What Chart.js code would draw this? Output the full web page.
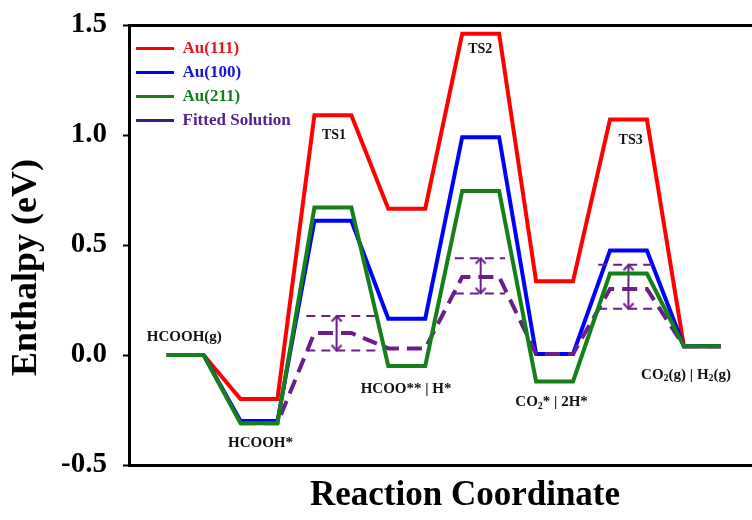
<!DOCTYPE html>
<html>
<head>
<meta charset="utf-8">
<script src="https://cdn.jsdelivr.net/npm/chart.js@4/dist/chart.umd.min.js"></script>
<style>
  html, body { margin: 0; padding: 0; overflow: hidden; background: #fff; }
  canvas { display: block; }
</style>
</head>
<body>
<canvas id="mycanvas" width="808" height="520"></canvas>
<script>
  //states along the reaction path
  var states = ['HCOOH(g)', 'HCOOH*', 'TS1', 'HCOO** | H*', 'TS2', 'CO2* | 2H*', 'TS3', 'CO2(g) | H2(g)'];
  //enthalpy of each state (eV)
  var au111 = [0, -0.20, 1.09, 0.665, 1.46, 0.335, 1.07, 0.04];
  var au100 = [0, -0.30, 0.61, 0.165, 0.99, 0.005, 0.475, 0.04];
  var au211 = [0, -0.31, 0.67, -0.05, 0.745, -0.12, 0.37, 0.04];
  var fitted = [null, -0.31, 0.10, 0.03, 0.355, 0.005, 0.30, 0.04];
  //spread of the fitted solution at the transition states
  var fitUpper = [0.177, 0.44, 0.41];
  var fitLower = [0.02, 0.28, 0.21];
  var bandFrom = [3.78, 7.8, 11.68];
  var bandTo = [5.71, 9.16, 13.29];
  var arrowX = [4.6, 8.5, 12.5];
  var yTicks = [-0.5, 0, 0.5, 1.0, 1.5];

  var serif = "'Liberation Serif', 'Times New Roman', serif";
  var purple = '#6a1e8c';

  //state labels, anchored in data units
  var stateLabels = [
    { parts: ['HCOOH(g)'], x: 0.48, y: 0.082, size: 15 },
    { parts: ['HCOOH*'], x: 2.54, y: -0.40, size: 15 },
    { parts: ['TS1'], x: 4.53, y: 1.0, size: 14 },
    { parts: ['HCOO** | H*'], x: 6.48, y: -0.155, size: 15 },
    { parts: ['TS2'], x: 8.49, y: 1.39, size: 14 },
    { parts: ['CO', { sub: '2' }, '* | 2H*'], x: 10.42, y: -0.214, size: 15 },
    { parts: ['TS3'], x: 12.56, y: 0.977, size: 14 },
    { parts: ['CO', { sub: '2' }, '(g) | H', { sub: '2' }, '(g)'], x: 14.06, y: -0.09, size: 15 }
  ];

  //each state is a flat step of one unit, joined by slopes
  function profile(values) {
    var pts = [];
    for (var i = 0; i < values.length; i++) {
      if (values[i] === null) continue;
      pts.push({ x: 2 * i, y: values[i] });
      pts.push({ x: 2 * i + 1, y: values[i] });
    }
    return pts;
  }

  function chevron(color) {
    var c = document.createElement('canvas');
    c.width = 14; c.height = 14;
    var g = c.getContext('2d');
    g.strokeStyle = color;
    g.lineWidth = 2;
    g.beginPath();
    g.moveTo(2, 12.5);
    g.lineTo(7, 7);
    g.lineTo(12, 12.5);
    g.stroke();
    return c;
  }
  var arrowHead = chevron(purple);

  var datasets = [
    { label: 'Au(111)', data: profile(au111), borderColor: '#ff0000', backgroundColor: '#ff0000', order: 3 },
    { label: 'Au(100)', data: profile(au100), borderColor: '#0000ff', backgroundColor: '#0000ff', order: 2 },
    { label: 'Au(211)', data: profile(au211), borderColor: '#15801a', backgroundColor: '#15801a', order: 0 },
    { label: 'Fitted Solution', data: profile(fitted), borderColor: purple, backgroundColor: '#3d1a80', borderDash: [15, 8], order: 1 }
  ];
  datasets.forEach(function(d) { d.borderWidth = 4; });

  for (var k = 0; k < fitUpper.length; k++) {
    [fitUpper[k], fitLower[k]].forEach(function(v) {
      datasets.push({
        label: 'band',
        data: [{ x: bandFrom[k], y: v }, { x: bandTo[k], y: v }],
        borderColor: purple, borderWidth: 2, borderDash: [9, 6], order: 1
      });
    });
    datasets.push({
      label: 'arrow',
      data: [{ x: arrowX[k], y: fitUpper[k] }, { x: arrowX[k], y: fitLower[k] }],
      borderColor: purple, borderWidth: 2, order: 1,
      pointStyle: arrowHead, pointRadius: 5, pointRotation: [0, 180]
    });
  }

  var legendText = ['#e8161c', '#1414d8', '#1a7a1e', '#55218f'];

  var labelPlugin = {
    id: 'stateLabels',
    afterDatasetsDraw: function(chart) {
      var ctx = chart.ctx;
      var xs = chart.scales.x, ys = chart.scales.y;
      ctx.save();
      ctx.fillStyle = '#111';
      ctx.textBaseline = 'middle';
      ctx.textAlign = 'left';
      stateLabels.forEach(function(l) {
        var main = 'bold ' + l.size + 'px ' + serif;
        var small = 'bold ' + Math.round(l.size * 0.65) + 'px ' + serif;
        var total = 0;
        l.parts.forEach(function(p) {
          ctx.font = typeof p === 'string' ? main : small;
          total += ctx.measureText(typeof p === 'string' ? p : p.sub).width;
        });
        var px = xs.getPixelForValue(l.x) - total / 2;
        var py = ys.getPixelForValue(l.y);
        l.parts.forEach(function(p) {
          var isSub = typeof p !== 'string';
          var t = isSub ? p.sub : p;
          ctx.font = isSub ? small : main;
          ctx.fillText(t, px, isSub ? py + 4 : py);
          px += ctx.measureText(t).width;
        });
      });
      ctx.restore();
    }
  };

  var ctx = document.getElementById('mycanvas').getContext('2d');
  var mychart = new Chart(ctx, {
    type: 'line',
    data: { datasets: datasets },
    plugins: [labelPlugin],
    options: {
      responsive: false,
      animation: false,
      layout: { padding: 0 },
      elements: {
        line: { tension: 0, fill: false, borderCapStyle: 'butt' },
        point: { radius: 0, hoverRadius: 0 }
      },
      plugins: {
        tooltip: { enabled: false },
        legend: {
          position: 'chartArea',
          align: 'start',
          //empty title only pushes the rows below the top frame
          title: { display: true, text: ' ', font: { size: 10 }, padding: { top: 10, bottom: 11 } },
          labels: {
            boxWidth: 38,
            boxHeight: 3,
            padding: 7,
            font: { family: serif, size: 17, weight: 'bold' },
            filter: function(item) { return item.datasetIndex < 4; },
            sort: function(a, b) { return a.datasetIndex - b.datasetIndex; },
            generateLabels: function(chart) {
              var items = Chart.defaults.plugins.legend.labels.generateLabels(chart);
              items.forEach(function(item) {
                var ds = chart.data.datasets[item.datasetIndex];
                item.fillStyle = ds.backgroundColor;
                item.lineWidth = 0;
                item.lineDash = [];
                item.fontColor = legendText[item.datasetIndex] || '#000';
              });
              return items;
            }
          }
        }
      },
      scales: {
        x: {
          type: 'linear',
          min: -1.018,
          max: 17.17,
          ticks: { display: false },
          grid: { display: false },
          border: { display: true, width: 3, color: '#000' },
          title: {
            display: true,
            text: 'Reaction Coordinate',
            color: '#000',
            font: { family: serif, size: 35, weight: 'bold' },
            padding: { top: 0, bottom: 3 }
          },
          afterFit: function(s) { s.height = 55; }
        },
        xTop: {
          type: 'linear',
          position: 'top',
          ticks: { display: false },
          grid: { display: false },
          border: { display: true, width: 3, color: '#000' },
          afterFit: function(s) { s.height = 25; }
        },
        y: {
          min: -0.5,
          max: 1.5,
          afterBuildTicks: function(s) {
            s.ticks = yTicks.map(function(v) { return { value: v }; });
          },
          ticks: {
            color: '#000',
            padding: 16,
            font: { family: serif, size: 29, weight: 'bold' },
            callback: function(v) { return Number(v).toFixed(1); }
          },
          grid: { drawOnChartArea: false, tickLength: 6, tickWidth: 2, tickColor: '#000' },
          border: { display: true, width: 3, color: '#000' },
          title: {
            display: true,
            text: 'Enthalpy (eV)     ',
            color: '#000',
            font: { family: serif, size: 36, weight: 'bold' },
            padding: { top: 5, bottom: 0 }
          },
          afterFit: function(s) {
            s.width = 129;
            s.paddingTop = 0;
            s.paddingBottom = 0;
          }
        }
      }
    }
  });
</script>
</body>
</html>
